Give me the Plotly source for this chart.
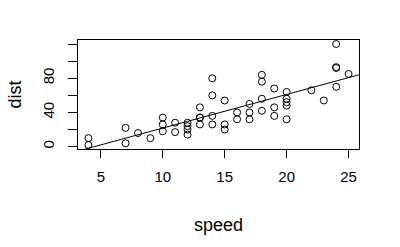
import numpy as np
import plotly.graph_objects as go

speed = [4, 4, 7, 7, 8, 9, 10, 10, 10, 11, 11, 12, 12, 12, 12, 13, 13, 13, 13,
         14, 14, 14, 14, 15, 15, 15, 16, 16, 17, 17, 17, 18, 18, 18, 18, 19, 19,
         19, 20, 20, 20, 20, 20, 22, 23, 24, 24, 24, 24, 25]
dist = [2, 10, 4, 22, 16, 10, 18, 26, 34, 17, 28, 14, 20, 24, 28, 26, 34, 34, 46,
        26, 36, 60, 80, 20, 26, 54, 32, 40, 32, 40, 50, 42, 56, 76, 84, 36, 46,
        68, 32, 48, 52, 56, 64, 66, 54, 70, 92, 93, 120, 85]

x_ticks = [5, 10, 15, 20, 25]
y_ticks = [0, 20, 40, 60, 80, 100, 120]
y_tick_labels = ["0", "", "40", "", "80", "", ""]

# R-style 4% axis extension
def ext(v):
    lo, hi = min(v), max(v)
    d = (hi - lo) * 0.04
    return [lo - d, hi + d]

xr = ext(speed)
yr = ext(dist)

slope, intercept = np.polyfit(speed, dist, 1)
lx = np.array(xr)
ly = intercept + slope * lx

fig = go.Figure()
fig.add_trace(go.Scatter(
    x=speed, y=dist, mode="markers",
    marker=dict(symbol="circle-open", size=7, color="black", line=dict(width=1)),
    showlegend=False, cliponaxis=False,
))
fig.add_trace(go.Scatter(
    x=lx, y=ly, mode="lines", line=dict(color="black", width=1),
    showlegend=False,
))

font = dict(family="Liberation Sans, Arial, sans-serif", size=15, color="black")

fig.update_layout(
    width=400, height=247,
    margin=dict(l=78, r=41, t=40, b=98),
    paper_bgcolor="white", plot_bgcolor="white",
    font=font,
    xaxis=dict(
        range=xr, tickvals=x_ticks, ticktext=[str(t) for t in x_ticks],
        showline=True, mirror=True, linecolor="black", linewidth=1,
        ticks="outside", ticklen=8, tickcolor="black", tickwidth=1,
        ticklabelstandoff=6, automargin=False,
        showgrid=False, zeroline=False,
        title=dict(text="speed", standoff=34),
    ),
    yaxis=dict(
        range=yr, tickvals=y_ticks, ticktext=y_tick_labels, tickangle=-90,
        showline=True, mirror=True, linecolor="black", linewidth=1,
        ticks="outside", ticklen=9, tickcolor="black", tickwidth=1,
        ticklabelstandoff=8, automargin=False,
        showgrid=False, zeroline=False,
        title=dict(text="dist", standoff=13),
    ),
)

fig.write_html("out.html")
